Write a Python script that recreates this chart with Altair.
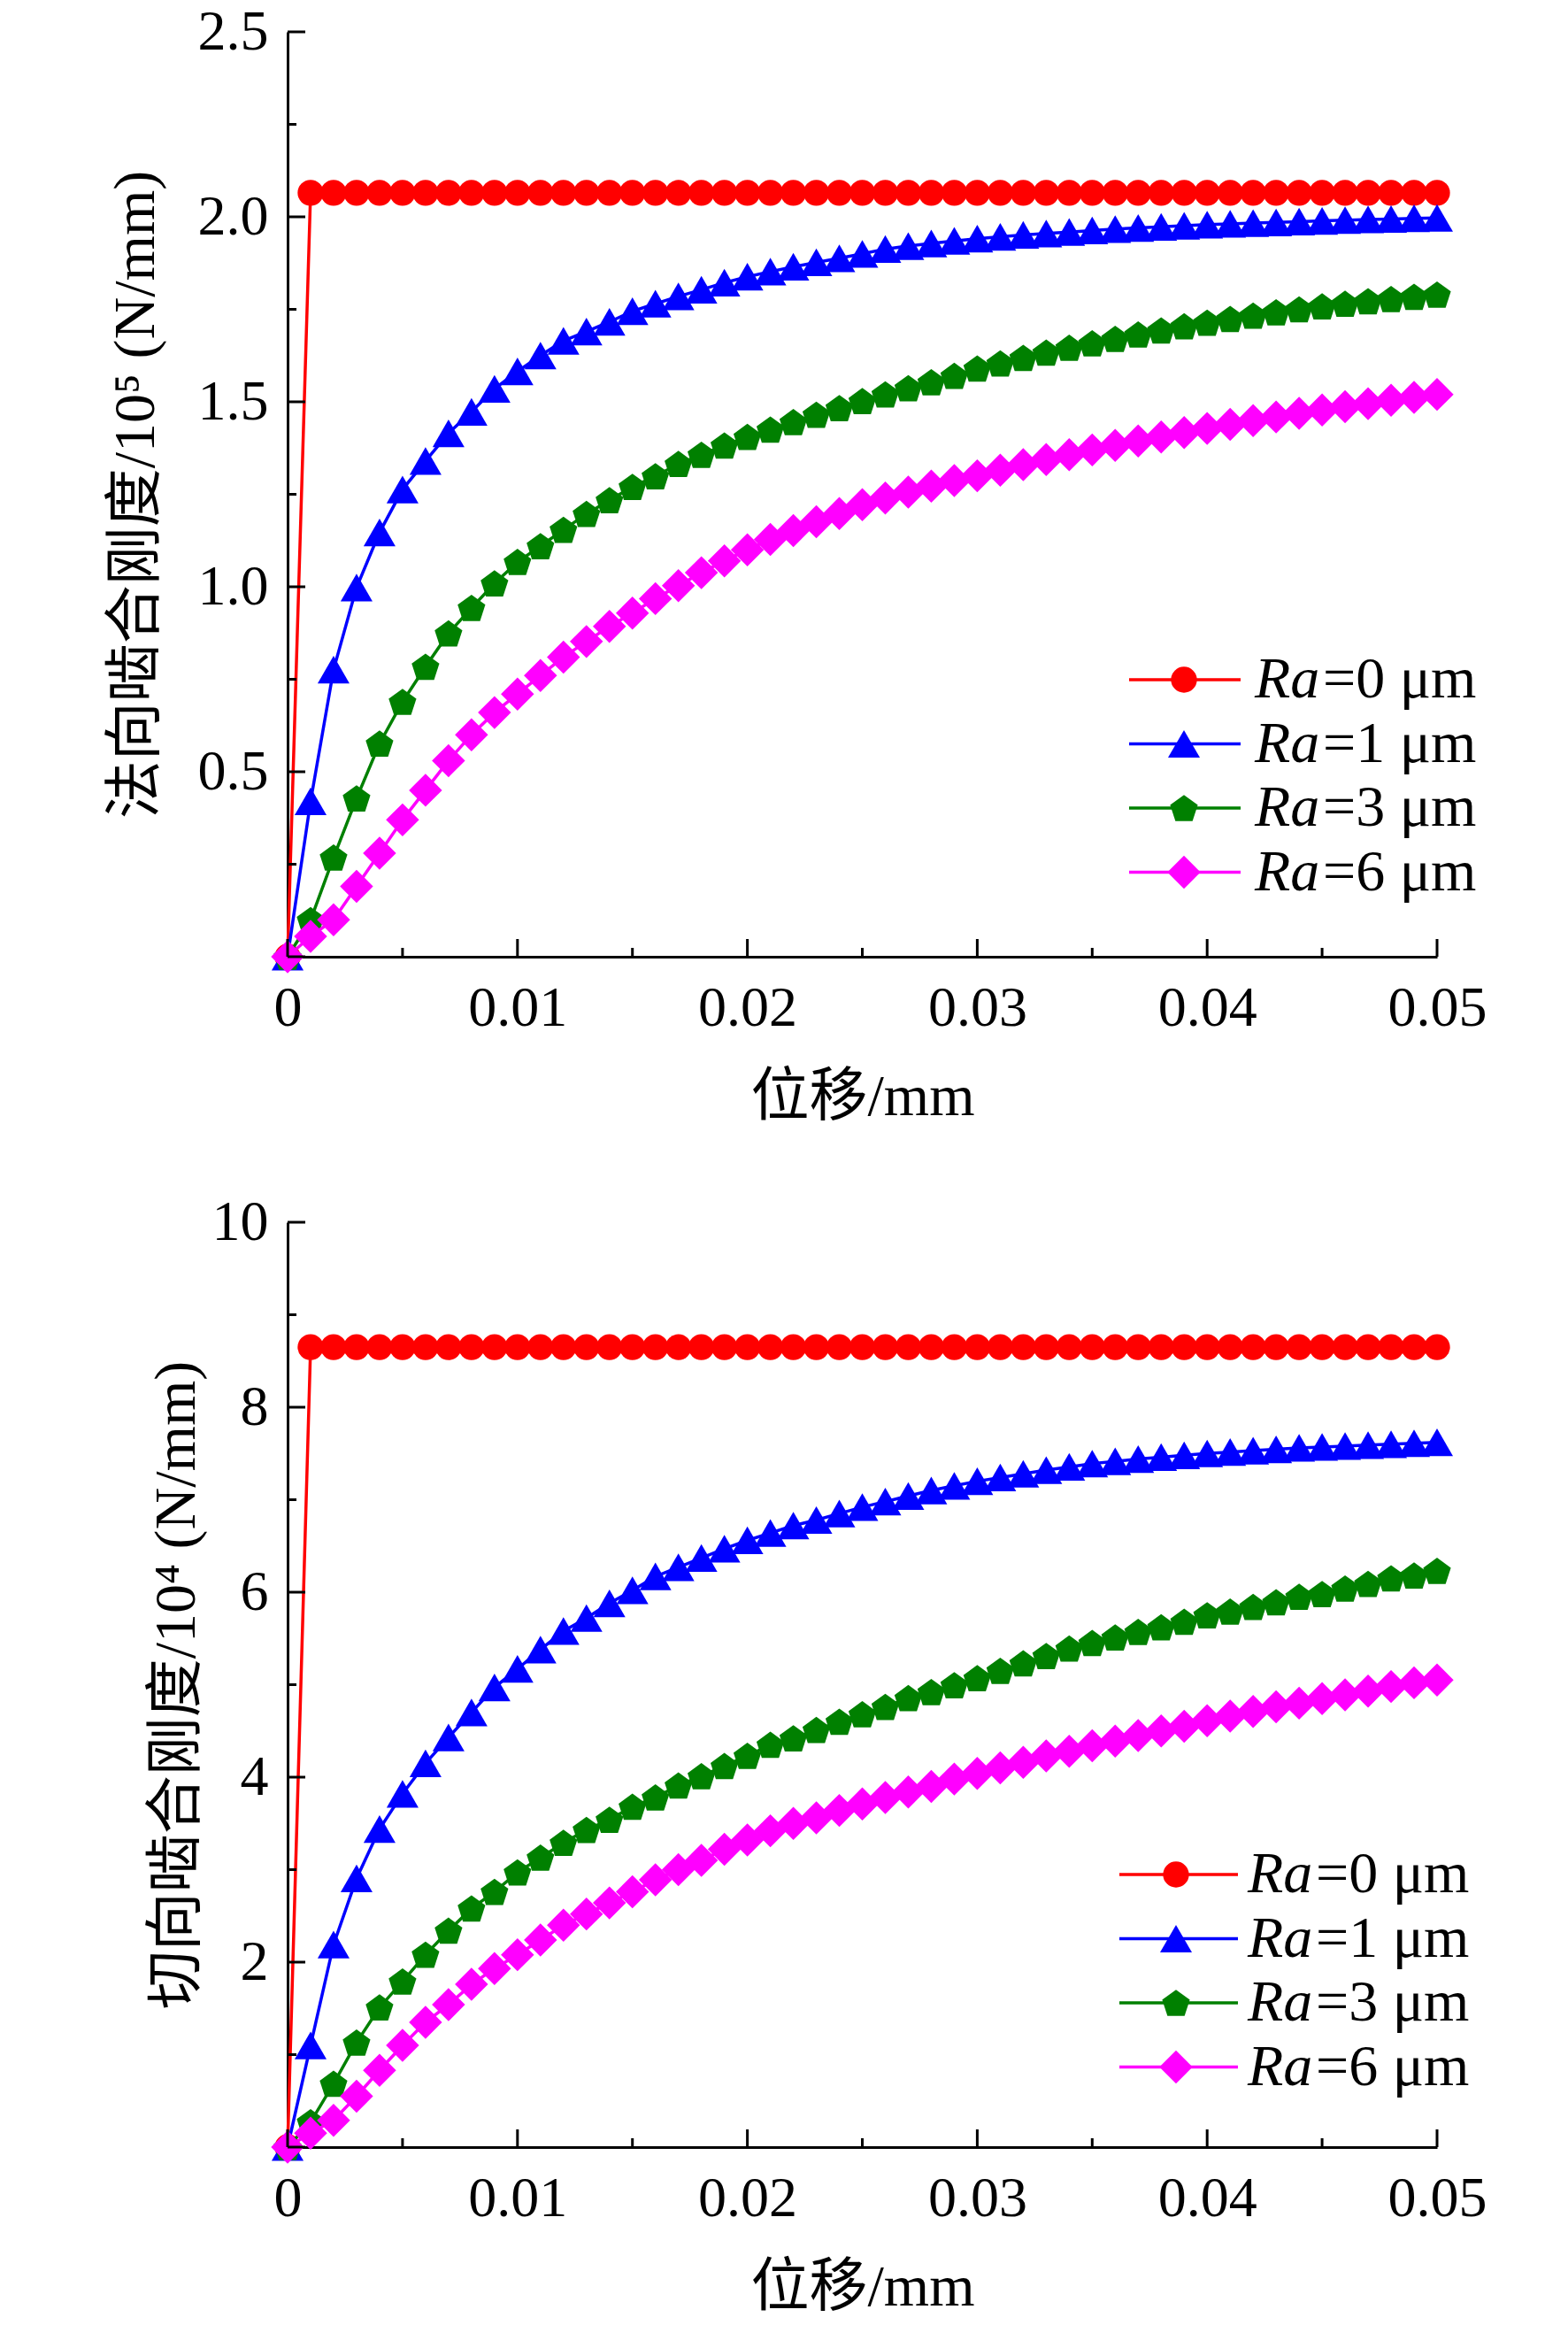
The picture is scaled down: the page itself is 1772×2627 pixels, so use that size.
import altair as alt
import pandas as pd

# ---------------- data ----------------
DISP = [0.000, 0.001, 0.002, 0.003, 0.004, 0.005, 0.006, 0.007, 0.008, 0.009,
        0.010, 0.011, 0.012, 0.013, 0.014, 0.015, 0.016, 0.017, 0.018, 0.019,
        0.020, 0.021, 0.022, 0.023, 0.024, 0.025, 0.026, 0.027, 0.028, 0.029,
        0.030, 0.031, 0.032, 0.033, 0.034, 0.035, 0.036, 0.037, 0.038, 0.039,
        0.040, 0.041, 0.042, 0.043, 0.044, 0.045, 0.046, 0.047, 0.048, 0.049,
        0.050]

SERIES = ["Ra=0 μm", "Ra=1 μm", "Ra=3 μm", "Ra=6 μm"]
RA_TEXT = ["=0 μm", "=1 μm", "=3 μm", "=6 μm"]
COLORS = ["#FF0000", "#0000FF", "#008000", "#FF00FF"]

# normal meshing stiffness / 10^5 (N/mm)
N_RA0 = [0.0, 2.065, 2.065, 2.065, 2.065, 2.065, 2.065, 2.065, 2.065, 2.065,
         2.065, 2.065, 2.065, 2.065, 2.065, 2.065, 2.065, 2.065, 2.065, 2.065,
         2.065, 2.065, 2.065, 2.065, 2.065, 2.065, 2.065, 2.065, 2.065, 2.065,
         2.065, 2.065, 2.065, 2.065, 2.065, 2.065, 2.065, 2.065, 2.065, 2.065,
         2.065, 2.065, 2.065, 2.065, 2.065, 2.065, 2.065, 2.065, 2.065, 2.065,
         2.065]
N_RA1 = [0.0, 0.42, 0.776, 0.998, 1.147, 1.263, 1.34, 1.415, 1.473, 1.535,
         1.582, 1.625, 1.665, 1.69, 1.716, 1.745, 1.765, 1.785, 1.803, 1.822,
         1.838, 1.852, 1.865, 1.877, 1.888, 1.90, 1.913, 1.921, 1.928, 1.935,
         1.941, 1.946, 1.951, 1.955, 1.959, 1.963, 1.967, 1.97, 1.973, 1.976,
         1.979, 1.981, 1.983, 1.985, 1.987, 1.989, 1.991, 1.993, 1.994, 1.996,
         1.997]
N_RA3 = [0.0, 0.099, 0.268, 0.428, 0.576, 0.689, 0.784, 0.874, 0.943, 1.009,
         1.067, 1.11, 1.154, 1.197, 1.234, 1.27, 1.299, 1.332, 1.357, 1.382,
         1.405, 1.425, 1.445, 1.465, 1.483, 1.502, 1.52, 1.537, 1.553, 1.57,
         1.59, 1.604, 1.619, 1.633, 1.646, 1.658, 1.67, 1.682, 1.693, 1.704,
         1.714, 1.724, 1.733, 1.742, 1.75, 1.758, 1.765, 1.772, 1.778, 1.784,
         1.79]
N_RA6 = [0.0, 0.055, 0.10, 0.19, 0.28, 0.37, 0.45, 0.53, 0.60, 0.66,
         0.71, 0.76, 0.81, 0.852, 0.893, 0.929, 0.968, 1.003, 1.038, 1.07,
         1.10, 1.128, 1.152, 1.176, 1.198, 1.222, 1.24, 1.256, 1.272, 1.287,
         1.30, 1.315, 1.33, 1.344, 1.357, 1.37, 1.382, 1.394, 1.405, 1.417,
         1.428, 1.439, 1.449, 1.459, 1.469, 1.478, 1.487, 1.495, 1.504, 1.512,
         1.52]

# tangential meshing stiffness / 10^4 (N/mm)
T_RA0 = [0.0, 8.65, 8.65, 8.65, 8.65, 8.65, 8.65, 8.65, 8.65, 8.65,
         8.65, 8.65, 8.65, 8.65, 8.65, 8.65, 8.65, 8.65, 8.65, 8.65,
         8.65, 8.65, 8.65, 8.65, 8.65, 8.65, 8.65, 8.65, 8.65, 8.65,
         8.65, 8.65, 8.65, 8.65, 8.65, 8.65, 8.65, 8.65, 8.65, 8.65,
         8.65, 8.65, 8.65, 8.65, 8.65, 8.65, 8.65, 8.65, 8.65, 8.65,
         8.65]
T_RA1 = [0.0, 1.10, 2.19, 2.905, 3.44, 3.82, 4.15, 4.43, 4.70, 4.97,
         5.17, 5.38, 5.58, 5.72, 5.88, 6.02, 6.17, 6.27, 6.37, 6.47,
         6.56, 6.64, 6.72, 6.78, 6.85, 6.92, 6.98, 7.04, 7.10, 7.15,
         7.20, 7.24, 7.28, 7.32, 7.355, 7.39, 7.415, 7.44, 7.46, 7.48,
         7.50, 7.515, 7.53, 7.545, 7.56, 7.57, 7.58, 7.59, 7.60, 7.61,
         7.62]
T_RA3 = [0.0, 0.27, 0.685, 1.13, 1.51, 1.79, 2.08, 2.34, 2.58, 2.76,
         2.97, 3.13, 3.29, 3.43, 3.54, 3.68, 3.78, 3.91, 4.01, 4.12,
         4.23, 4.35, 4.42, 4.51, 4.60, 4.68, 4.76, 4.855, 4.92, 4.995,
         5.07, 5.15, 5.23, 5.31, 5.39, 5.45, 5.51, 5.57, 5.62, 5.68,
         5.75, 5.79, 5.84, 5.89, 5.95, 5.98, 6.04, 6.09, 6.15, 6.18,
         6.23]
T_RA6 = [0.0, 0.15, 0.29, 0.55, 0.83, 1.10, 1.35, 1.54, 1.76, 1.93,
         2.08, 2.24, 2.40, 2.52, 2.64, 2.76, 2.89, 3.00, 3.10, 3.22,
         3.32, 3.42, 3.50, 3.56, 3.64, 3.71, 3.78, 3.84, 3.90, 3.98,
         4.04, 4.10, 4.16, 4.23, 4.28, 4.34, 4.39, 4.45, 4.50, 4.55,
         4.61, 4.66, 4.71, 4.76, 4.80, 4.85, 4.89, 4.93, 4.98, 5.02,
         5.05]

# ticks
X_MAJOR = [0.0, 0.01, 0.02, 0.03, 0.04, 0.05]
X_MINOR = [0.005, 0.015, 0.025, 0.035, 0.045]
Y1_MAJOR = [0.0, 0.5, 1.0, 1.5, 2.0, 2.5]
Y1_LABELED = [0.5, 1.0, 1.5, 2.0, 2.5]
Y1_MINOR = [0.25, 0.75, 1.25, 1.75, 2.25]
Y2_MAJOR = [0, 2, 4, 6, 8, 10]
Y2_LABELED = [2, 4, 6, 8, 10]
Y2_MINOR = [1, 3, 5, 7, 9]

# ---------------- styling ----------------
SERIF = "Liberation Serif"
TFONT = "Liberation Serif, Noto Sans CJK SC"
PENTAGON = "M0,-0.905L0.951,-0.214L0.588,0.905L-0.588,0.905L-0.951,-0.214Z"
SHAPES = ["circle", "triangle-up", PENTAGON, "diamond"]
SIZES = [860, 1300, 1080, 1400]
W = 1299
H = 1045
LW = 3.5


def panel(series_vals, ydom, y_major, y_labeled, y_minor, y_fmt, ytitle,
          ytitle_pad, leg):
    xenc = alt.X(
        "disp:Q",
        scale=alt.Scale(domain=[0, 0.05], nice=False, zero=False),
        axis=alt.Axis(
            values=X_MAJOR,
            labelExpr="datum.value == 0 ? '0' : format(datum.value, '.2f')",
            ticks=False, grid=False, domainColor="black", domainWidth=3,
            labelFont=SERIF, labelFontSize=64, labelColor="black",
            labelPadding=26, labelFlush=False, labelOverlap=False,
            title="位移/mm", titleFont=TFONT, titleFontSize=66,
            titleFontWeight="normal", titleColor="black", titlePadding=36,
        ),
    )
    yenc = alt.Y(
        "k:Q",
        scale=alt.Scale(domain=ydom, nice=False, zero=True),
        axis=alt.Axis(
            values=y_labeled, format=y_fmt,
            ticks=False, grid=False, domainColor="black", domainWidth=3,
            labelFont=SERIF, labelFontSize=64, labelColor="black",
            labelPadding=22, labelFlush=False, labelOverlap=False,
            title=ytitle, titleFont=TFONT, titleFontSize=66,
            titleFontWeight="normal", titleColor="black",
            titlePadding=ytitle_pad,
        ),
    )

    layers = []
    # each series: line, then its markers (Origin-like drawing order)
    for i, (name, vals) in enumerate(zip(SERIES, series_vals)):
        df = pd.DataFrame({"disp": DISP, "k": vals, "series": name})
        layers.append(alt.Chart(df).mark_line(
            strokeWidth=LW, color=COLORS[i]).encode(x=xenc, y=yenc))
        layers.append(alt.Chart(df).mark_point(
            filled=True, opacity=1, strokeWidth=0, color=COLORS[i],
            shape=SHAPES[i], size=SIZES[i]).encode(x=xenc, y=yenc))

    # inward ticks
    layers.append(alt.Chart(pd.DataFrame({"disp": X_MAJOR})).mark_rule(
        color="black", strokeWidth=3).encode(
        x=xenc, y=alt.value(H), y2=alt.value(H - 20)))
    layers.append(alt.Chart(pd.DataFrame({"disp": X_MINOR})).mark_rule(
        color="black", strokeWidth=3).encode(
        x=xenc, y=alt.value(H), y2=alt.value(H - 10)))
    layers.append(alt.Chart(pd.DataFrame({"k": y_major})).mark_rule(
        color="black", strokeWidth=3).encode(
        y=yenc, x=alt.value(0), x2=alt.value(20)))
    layers.append(alt.Chart(pd.DataFrame({"k": y_minor})).mark_rule(
        color="black", strokeWidth=3).encode(
        y=yenc, x=alt.value(0), x2=alt.value(10)))

    # hand-built legend (line + marker, italic "Ra")
    y0, dy, lx0, lx1, mx, tx, tx2 = leg
    for i, (name, txt) in enumerate(zip(SERIES, RA_TEXT)):
        ry = y0 + i * dy
        one = pd.DataFrame({"label": [txt]})
        layers.append(alt.Chart(one).mark_rule(color=COLORS[i], strokeWidth=LW).encode(
            x=alt.value(lx0), x2=alt.value(lx1), y=alt.value(ry)))
        layers.append(alt.Chart(one).mark_point(
            filled=True, opacity=1, strokeWidth=0, shape=SHAPES[i],
            size=SIZES[i], color=COLORS[i]).encode(
            x=alt.value(mx), y=alt.value(ry)))
        layers.append(alt.Chart(one).mark_text(
            text="Ra", font=SERIF, fontStyle="italic", fontSize=66,
            align="left", baseline="middle", color="black").encode(
            x=alt.value(tx), y=alt.value(ry)))
        layers.append(alt.Chart(one).mark_text(
            font=SERIF, fontSize=66, align="left", baseline="middle",
            color="black").encode(
            text=alt.Text("label:N"), x=alt.value(tx2), y=alt.value(ry)))

    return alt.layer(*layers).properties(width=W, height=H)


top = panel([N_RA0, N_RA1, N_RA3, N_RA6], [0, 2.5], Y1_MAJOR, Y1_LABELED,
            Y1_MINOR, ".1f", "法向啮合刚度/10⁵ (N/mm)", 36,
            (732, 72.5, 951, 1077, 1013, 1093, 1170))
bottom = panel([T_RA0, T_RA1, T_RA3, T_RA6], [0, 10], Y2_MAJOR, Y2_LABELED,
               Y2_MINOR, "d", "切向啮合刚度/10⁴ (N/mm)", 6,
               (737, 72.5, 940, 1074, 1004, 1085, 1162))

chart = alt.vconcat(top, bottom, spacing=77).configure_view(
    strokeWidth=0).properties(
    padding={"left": 112, "top": -4, "right": 10, "bottom": 0},
    background="white")

chart.save("out.html", embed_options={"renderer": "svg", "actions": False})
